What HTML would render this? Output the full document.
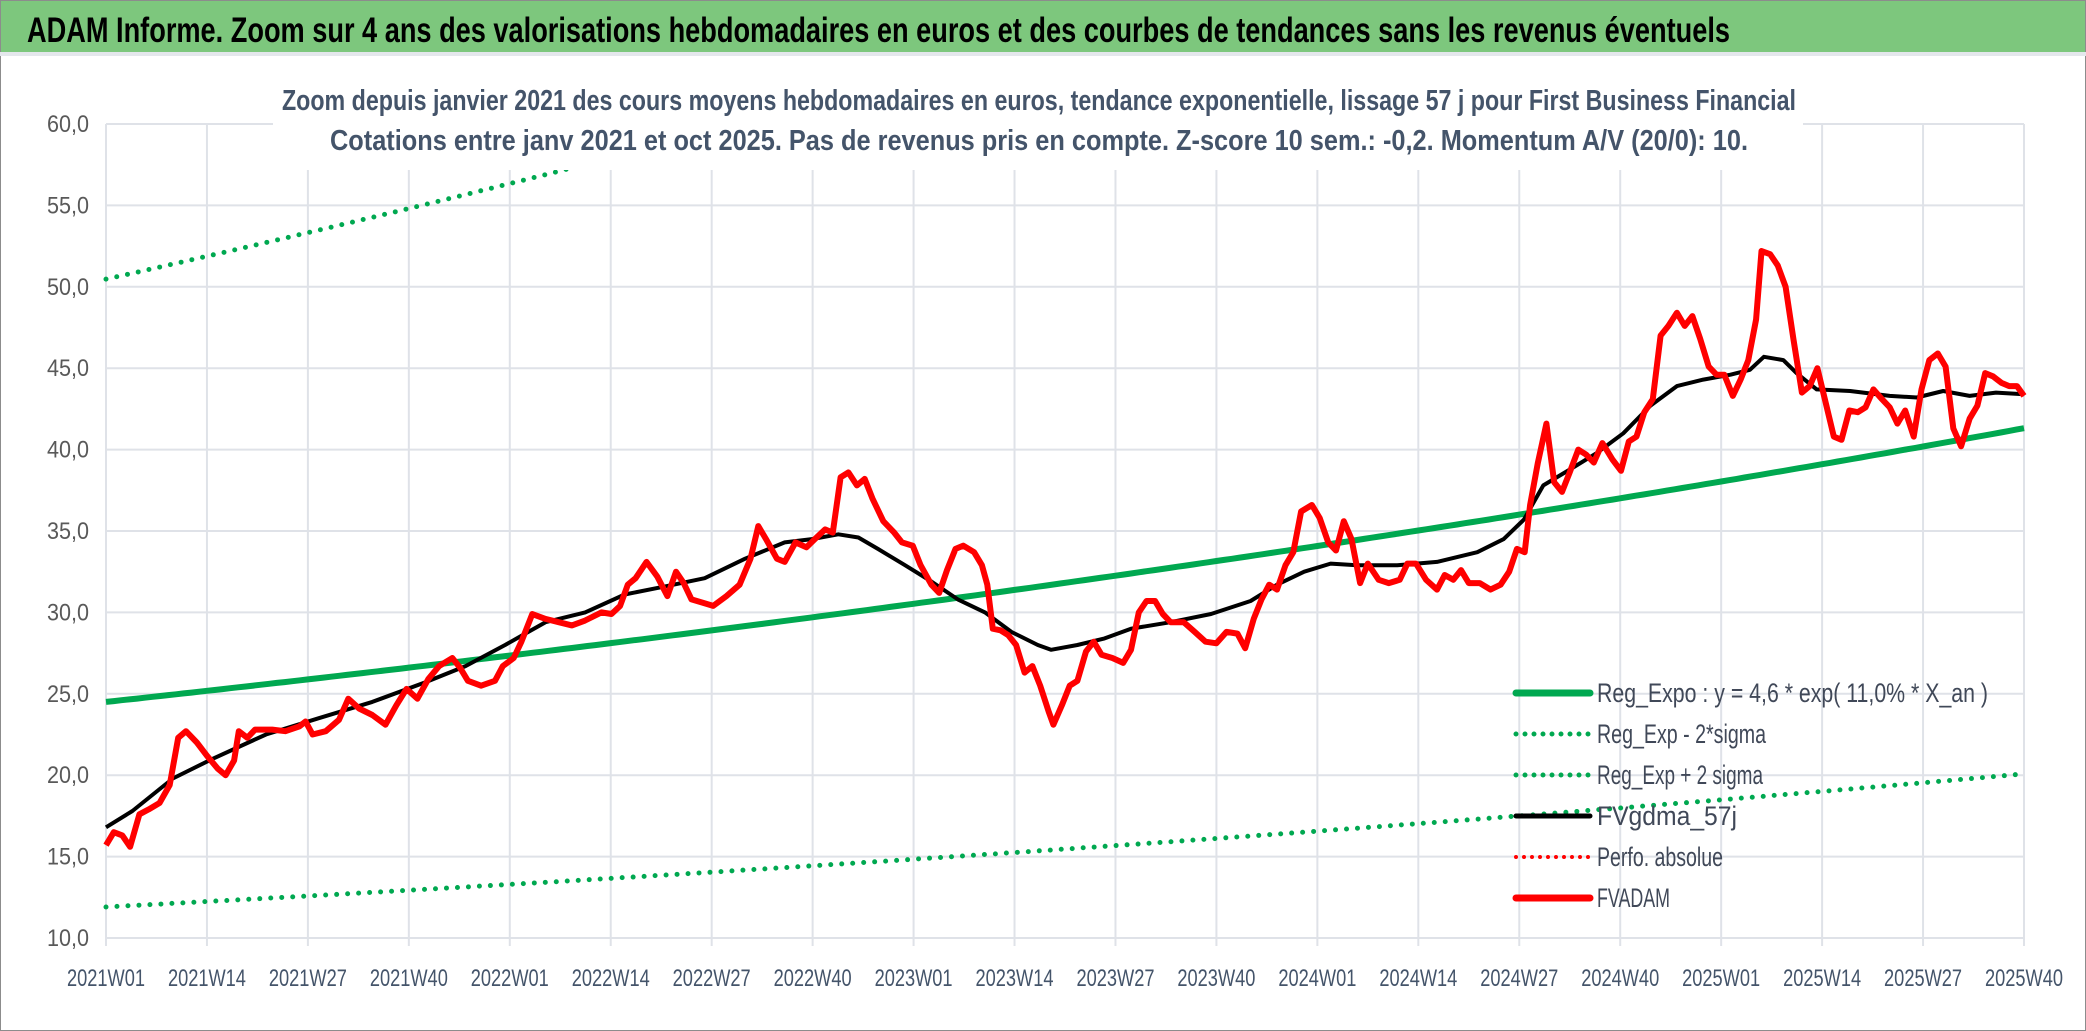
<!DOCTYPE html>
<html><head><meta charset="utf-8"><style>
html,body{margin:0;padding:0;background:#fff;}
svg{display:block;}
text{font-family:"Liberation Sans Narrow","Liberation Sans",sans-serif;}
</style></head><body>
<svg id="chart" xmlns="http://www.w3.org/2000/svg" width="2086" height="1031" viewBox="0 0 2086 1031">
<rect x="0" y="0" width="2086" height="1031" fill="#fff" stroke="#8c8c8c" stroke-width="2"/>
<rect x="1" y="1" width="2084" height="51" fill="#7dc77d"/>
<rect x="0" y="52" width="2086" height="4" fill="#e4e7ec"/>
<text x="27" y="42" font-size="35" font-weight="bold" fill="#000" textLength="1703" lengthAdjust="spacingAndGlyphs">ADAM Informe. Zoom sur 4 ans des valorisations hebdomadaires en euros et des courbes de tendances sans les revenus éventuels</text>
<g id="grid"></g>
<g id="series"></g>
<rect x="273" y="80" width="1530" height="90" fill="#fff"/>
<text x="1039" y="110" font-size="29" font-weight="bold" fill="#44546a" text-anchor="middle" textLength="1514" lengthAdjust="spacingAndGlyphs">Zoom depuis janvier 2021 des cours moyens hebdomadaires en euros, tendance exponentielle, lissage 57 j pour First Business Financial</text>
<text x="1039" y="150" font-size="29" font-weight="bold" fill="#44546a" text-anchor="middle" textLength="1418" lengthAdjust="spacingAndGlyphs">Cotations entre janv 2021 et oct 2025. Pas de revenus pris en compte. Z-score 10 sem.: -0,2. Momentum A/V (20/0): 10.</text>
<g id="axes"></g>
<g id="legend"></g>
</svg>
<script>
const yTicks=[10,15,20,25,30,35,40,45,50,55,60];
const xLabels=["2021W01","2021W14","2021W27","2021W40","2022W01","2022W14","2022W27","2022W40","2023W01","2023W14","2023W27","2023W40","2024W01","2024W14","2024W27","2024W40","2025W01","2025W14","2025W27","2025W40"];
const totalWeeks=247;
const regStart=24.5, regGrowth=0.11, bandLow=0.486, bandHigh=2.06;
const priceWeeks=[0,1.0,2.1,3.1,4.3,5.5,6.9,8.2,9.3,10.3,11.7,13.0,14.4,15.4,16.5,17.1,18.2,19.2,21.4,23.1,24.9,25.7,26.6,28.3,30.0,31.2,32.6,34.3,36.0,37.4,38.7,40.1,41.5,42.9,44.6,45.6,46.6,48.3,50.1,51.1,52.5,53.5,54.9,56.6,58.3,60.0,61.7,63.8,65.1,66.2,67.2,68.2,69.6,71.0,72.3,73.4,74.4,75.4,76.8,78.2,79.9,81.6,83.0,84.0,85.0,86.4,87.4,88.8,90.2,91.5,92.6,93.6,94.6,95.6,96.7,97.7,98.7,100.1,101.5,102.5,103.9,104.9,106.3,107.3,108.3,109.4,110.4,111.8,112.8,113.5,114.2,115.2,116.2,117.2,118.3,119.3,120.3,121.4,122.0,123.1,124.1,125.1,126.2,127.2,128.2,129.6,131.0,132.0,133.0,134.0,135.1,136.1,137.1,138.8,140.2,141.6,143.0,144.3,145.7,146.7,147.8,148.8,149.8,150.8,151.9,152.9,153.9,155.3,156.3,157.4,158.4,159.4,160.4,161.5,162.5,163.9,165.2,166.6,167.6,168.7,170.0,171.4,172.4,173.5,174.5,175.5,176.9,178.3,179.6,180.7,181.7,182.7,183.4,184.4,185.5,186.5,187.5,188.5,189.6,190.6,191.6,192.7,194.0,195.1,196.1,197.1,198.1,199.2,200.2,201.2,202.3,203.3,204.3,205.3,206.4,207.4,208.4,209.5,210.5,211.5,212.5,213.2,214.3,215.3,216.3,217.3,218.4,219.4,220.4,221.5,222.5,223.5,224.5,225.6,226.6,227.6,228.7,229.7,230.7,231.7,232.8,233.8,234.8,235.9,236.9,237.9,238.9,240.0,241.0,242.0,243.0,244.1,245.1,246.1,247];
const priceValues=[15.7,16.5,16.3,15.6,17.6,17.9,18.3,19.4,22.3,22.7,22.0,21.2,20.4,20.0,20.9,22.7,22.3,22.8,22.8,22.7,23.0,23.3,22.5,22.7,23.4,24.7,24.1,23.7,23.1,24.3,25.3,24.7,25.9,26.7,27.2,26.6,25.8,25.5,25.8,26.7,27.2,28.2,29.9,29.6,29.4,29.2,29.5,30.0,29.9,30.4,31.7,32.1,33.1,32.2,31.0,32.5,31.8,30.8,30.6,30.4,31.0,31.7,33.3,35.3,34.5,33.3,33.1,34.3,34.0,34.6,35.1,34.9,38.3,38.6,37.8,38.2,37.0,35.6,34.9,34.3,34.1,32.9,31.7,31.2,32.6,33.9,34.1,33.7,32.9,31.7,29.0,28.9,28.6,28.0,26.3,26.7,25.5,23.9,23.1,24.3,25.5,25.8,27.6,28.2,27.4,27.2,26.9,27.7,30.0,30.7,30.7,29.9,29.4,29.4,28.8,28.2,28.1,28.8,28.7,27.8,29.6,30.8,31.7,31.4,32.9,33.7,36.2,36.6,35.8,34.3,33.8,35.6,34.5,31.8,33.0,32.0,31.8,32.0,33.0,33.0,32.0,31.4,32.3,32.0,32.6,31.8,31.8,31.4,31.7,32.5,33.9,33.7,36.6,39.2,41.6,38.0,37.4,38.6,40.0,39.7,39.2,40.4,39.4,38.7,40.5,40.8,42.3,43.1,47.0,47.6,48.4,47.6,48.2,46.8,45.1,44.6,44.6,43.3,44.3,45.5,48.0,52.2,52.0,51.3,50.0,46.8,43.5,43.9,45.0,42.8,40.8,40.6,42.4,42.3,42.6,43.7,43.1,42.6,41.6,42.4,40.8,43.7,45.5,45.9,45.1,41.3,40.2,41.9,42.7,44.7,44.5,44.1,43.9,43.9,43.3];
const maWeeks=[0,3.4,8.6,13.7,20.6,27.4,34.3,41.1,46.3,51.4,56.6,61.7,66.8,72.0,77.1,82.3,87.4,90.9,94.3,96.9,99.4,102.9,106.3,109.7,113.2,116.6,120.0,121.7,125.1,128.6,132.0,137.1,142.3,147.4,150.8,154.3,157.7,161.1,166.3,171.4,176.6,180.0,182.6,185.1,188.6,192.0,195.4,198.9,202.3,205.7,209.2,211.7,213.5,216.0,217.7,220.3,224.6,229.7,233.2,236.6,240.0,243.4,247];
const maValues=[16.8,17.8,19.8,21.0,22.5,23.5,24.5,25.7,26.7,28.0,29.4,30.0,31.1,31.6,32.1,33.3,34.3,34.5,34.8,34.6,33.9,32.9,31.9,30.8,30.0,28.8,28.0,27.7,28.0,28.4,29.0,29.4,29.9,30.7,31.7,32.5,33.0,32.9,32.9,33.1,33.7,34.5,35.7,37.8,38.8,39.8,41.0,42.7,43.9,44.3,44.6,44.9,45.7,45.5,44.7,43.7,43.6,43.3,43.2,43.6,43.3,43.5,43.4];

const L=106,R=2024,YB=938,YT=124,ymin=10,ymax=60;
const xs=w=>L+(R-L)*w/totalWeeks;
const ys=v=>YB-(YB-YT)*(v-ymin)/(ymax-ymin);
const NS="http://www.w3.org/2000/svg";
function mk(tag,attrs,parent){const e=document.createElementNS(NS,tag);for(const k in attrs)e.setAttribute(k,attrs[k]);parent.appendChild(e);return e;}
const grid=document.getElementById('grid'),axes=document.getElementById('axes'),series=document.getElementById('series'),legend=document.getElementById('legend');

yTicks.forEach(t=>{
  const ln=mk('line',{x1:L,x2:R,y1:ys(t),y2:ys(t),stroke:'#dfe2e8','stroke-width':2},grid);
  
  
  const tx=mk('text',{x:89,y:ys(t)+8,'font-size':24,fill:'#595959','text-anchor':'end',textLength:42,lengthAdjust:'spacingAndGlyphs'},axes);
  tx.textContent=t.toFixed(1).replace('.',',');
  
  
});
xLabels.forEach((lab,i)=>{
  const x=xs(i*13);
  const ln=mk('line',{x1:x,x2:x,y1:YT,y2:YB+8,stroke:'#dfe2e8','stroke-width':2},grid);
  
  
  const tx=mk('text',{x:x,y:986,'font-size':24,fill:'#44546a','text-anchor':'middle',textLength:78,lengthAdjust:'spacingAndGlyphs'},axes);
  tx.textContent=lab;
  
  
});

const clip=mk('clipPath',{id:'pc'},document.getElementById('chart'));
mk('rect',{x:L-5,y:YT,width:R-L+10,height:YB-YT},clip);

function pathFrom(ws,vs){return ws.map((w,i)=>(i?'L':'M')+xs(w).toFixed(1)+','+ys(vs[i]).toFixed(1)).join(' ');}
const regW=[],regV=[],loV=[],hiV=[];
for(let w=0;w<=totalWeeks;w++){const v=regStart*Math.exp(regGrowth*w/52);regW.push(w);regV.push(v);loV.push(v*bandLow);hiV.push(v*bandHigh);}

const pHi=mk('path',{d:pathFrom(regW,hiV),fill:'none',stroke:'#00a850','stroke-width':5,'stroke-dasharray':'0 11','stroke-linecap':'round','clip-path':'url(#pc)'},series);


const pLo=mk('path',{d:pathFrom(regW,loV),fill:'none',stroke:'#00a850','stroke-width':5,'stroke-dasharray':'0 11','stroke-linecap':'round'},series);


const pReg=mk('path',{d:pathFrom(regW,regV),fill:'none',stroke:'#00a850','stroke-width':6},series);


const pMa=mk('path',{d:pathFrom(maWeeks,maValues),fill:'none',stroke:'#000','stroke-width':4,'stroke-linejoin':'round'},series);


const pPr=mk('path',{d:pathFrom(priceWeeks,priceValues),fill:'none',stroke:'#ff0000','stroke-width':6,'stroke-linejoin':'round'},series);



const legItems=[
 ["Reg_Expo : y = 4,6 * exp( 11,0% *  X_an )",'#00a850',7,null,391],
 ["Reg_Exp - 2*sigma",'#00a850',5,'0 9',169],
 ["Reg_Exp + 2 sigma",'#00a850',5,'0 9',166],
 ["FVgdma_57j",'#000',5,null,140],
 ["Perfo. absolue",'#ff0000',4,'0 8',126],
 ["FVADAM",'#ff0000',7,null,73]
];
legItems.forEach((it,i)=>{
  const y=693+i*41;
  const ln=mk('line',{x1:1516,x2:1590,y1:y,y2:y,stroke:it[1],'stroke-width':it[2],'stroke-linecap':'round'},legend);
  if(it[3])ln.setAttribute('stroke-dasharray',it[3]);
  
  
  const tx=mk('text',{x:1597,y:y+9,'font-size':27,fill:'#404858',textLength:it[4],lengthAdjust:'spacingAndGlyphs'},legend);
  tx.textContent=it[0];
  
  
});
</script>
</body></html>
